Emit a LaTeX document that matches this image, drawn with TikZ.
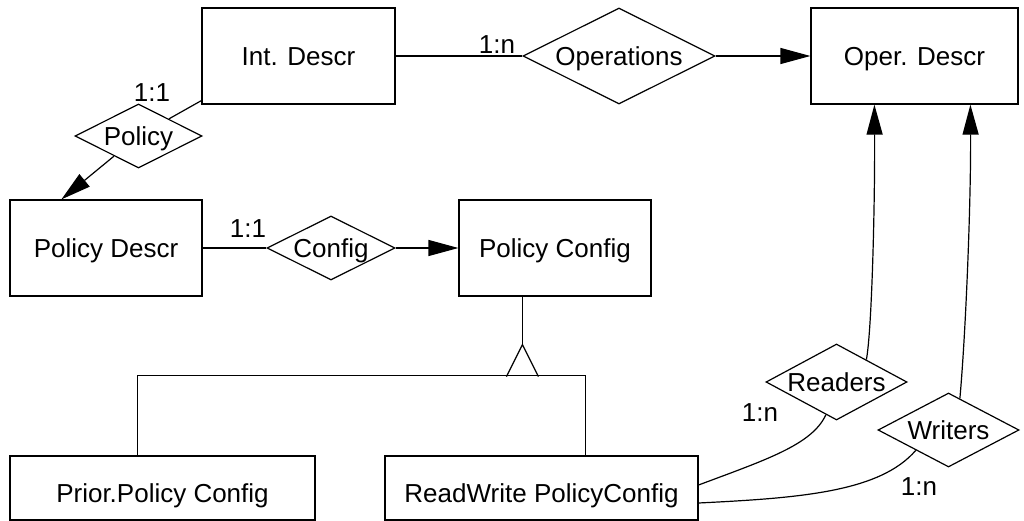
\documentclass[tikz,border=0pt]{standalone}
\usepackage{fontspec}
\setmainfont{Liberation Sans}
\usetikzlibrary{shapes.geometric,arrows.meta,calc}
\begin{document}
\begin{tikzpicture}[x=1pt,y=-1pt,
  every node/.style={font=\fontsize{26}{30}\selectfont, inner sep=0pt},
  entity/.style={draw, rectangle, line width=1.2pt, text height=18.6pt, text depth=0pt},
  lowtext/.style={text height=28.6pt},
  rel/.style={draw, diamond, line width=1.2pt, shape aspect=2, text height=18.6pt, text depth=0pt},
  card/.style={text height=18.6pt, text depth=0pt},
  conn/.style={line width=1.2pt},
  arr/.style={conn, -{Triangle[length=30pt,width=16pt]}}]
\useasboundingbox (0,0) rectangle (1024,521);

% entities
\node[entity, minimum width=193pt, minimum height=96pt] (IntDescr) at (298.5,56) {Int. Descr};
\node[entity, minimum width=207pt, minimum height=96pt] (OperDescr) at (914.5,56) {Oper. Descr};
\node[entity, minimum width=192pt, minimum height=96pt] (PolicyDescr) at (106,248) {Policy Descr};
\node[entity, minimum width=192pt, minimum height=96pt] (PolicyConfig) at (555,248) {Policy Config};
\node[entity, lowtext, minimum width=305pt, minimum height=64pt] (Prior) at (162.5,488) {Prior.Policy Config};
\node[entity, lowtext, minimum width=313pt, minimum height=64pt] (ReadWrite) at (541.5,488) {ReadWrite PolicyConfig};

% relationships
\node[rel, minimum width=192pt, minimum height=96pt] (Operations) at (619,56) {Operations};
\node[rel, minimum width=127pt, minimum height=64pt] (Policy) at (138.5,136) {Policy};
\node[rel, minimum width=128pt, minimum height=64pt] (Config) at (331,248) {Config};
\node[rel, minimum width=141pt, minimum height=76pt] (Readers) at (836.5,382) {Readers};
\node[rel, minimum width=141pt, minimum height=74pt] (Writers) at (948.5,430) {Writers};

% cardinalities
\node[card] (cPolicy) at (152,92) {1:1};
\node[card] (cOper) at (497,44) {1:n};
\node[card] (cConfig) at (248,228) {1:1};
\node[card] (cReaders) at (760,412) {1:n};
\node[card] (cWriters) at (919,486) {1:n};

% connectors
\draw[conn] (Policy) -- ($(IntDescr.south west)+(0,-4)$);
\draw[arr] (Policy) -- ($(PolicyDescr.north west)+(52,0)$);
\draw[conn] (IntDescr) -- (Operations);
\draw[arr] (Operations) -- (OperDescr);
\draw[conn] (PolicyDescr) -- (Config);
\draw[arr] (Config) -- (PolicyConfig);

% generalization
\coordinate (apex) at ($(PolicyConfig.south west)+(64,48)$);
\draw[conn] ($(PolicyConfig.south west)+(64,0)$) -- (apex);
\draw[conn, line join=miter] ($(apex)+(-16,32)$) -- (apex) -- ($(apex)+(16,32)$);
\draw[conn] ($(Prior.north west)+(128,0)$) -- ++(0,-80)
  -- ($(ReadWrite.north west)+(201,-80)$) -- ($(ReadWrite.north west)+(201,0)$);

% readers / writers
\draw[conn] ($(ReadWrite.east)+(0,-3)$) .. controls (765,460) and (812,445) ..
  ($(Readers.south)!0.15!(Readers.west)$);
\draw[conn] ($(ReadWrite.east)+(0,15)$) .. controls (800,498) and (880,492) ..
  ($(Writers.south)!0.46!(Writers.west)$);
\draw[arr] ($(Readers.north)!0.42!(Readers.east)$) .. controls (872,330) and (875,200) ..
  ($(OperDescr.south west)+(64,0)$);
\draw[arr] ($(Writers.north)!0.16!(Writers.east)$) .. controls (966,330) and (971,200) ..
  ($(OperDescr.south west)+(160,0)$);
\end{tikzpicture}
\end{document}
